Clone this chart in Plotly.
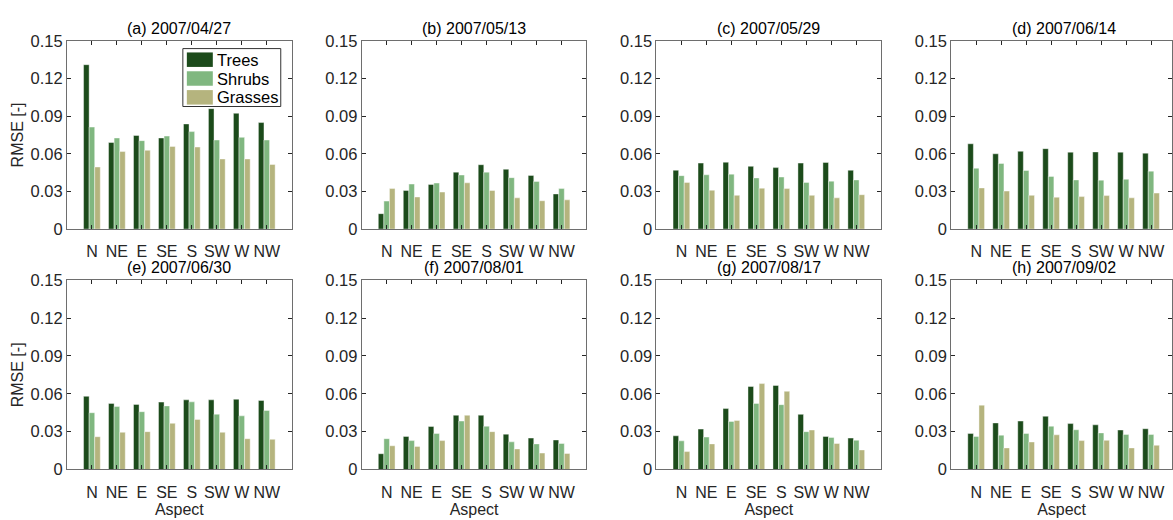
import plotly.graph_objects as go

aspects = ["N", "NE", "E", "SE", "S", "SW", "W", "NW"]
dates = ["(a) 2007/04/27", "(b) 2007/05/13", "(c) 2007/05/29", "(d) 2007/06/14",
         "(e) 2007/06/30", "(f) 2007/08/01", "(g) 2007/08/17", "(h) 2007/09/02"]
series_names = ["Trees", "Shrubs", "Grasses"]

trees_a = [0.131, 0.069, 0.0746, 0.0726, 0.0838, 0.0960, 0.0923, 0.0849]
shrubs_a = [0.0813, 0.0726, 0.0705, 0.0741, 0.0777, 0.0710, 0.0731, 0.0710]
grasses_a = [0.0495, 0.0618, 0.0628, 0.0659, 0.0654, 0.0559, 0.0559, 0.0515]

trees_b = [0.0123, 0.0308, 0.0356, 0.0454, 0.0513, 0.0477, 0.0428, 0.0280]
shrubs_b = [0.0223, 0.0359, 0.0367, 0.0431, 0.0454, 0.0410, 0.0380, 0.0323]
grasses_b = [0.0323, 0.0256, 0.0295, 0.0369, 0.0308, 0.0249, 0.0226, 0.0233]

trees_c = [0.0469, 0.0526, 0.0533, 0.0500, 0.0490, 0.0526, 0.0531, 0.0469]
shrubs_c = [0.0426, 0.0433, 0.0438, 0.0408, 0.0415, 0.0372, 0.0382, 0.0392]
grasses_c = [0.0372, 0.0310, 0.0269, 0.0326, 0.0323, 0.0269, 0.0249, 0.0274]

trees_d = [0.0680, 0.0600, 0.0620, 0.0641, 0.0613, 0.0615, 0.0613, 0.0605]
shrubs_d = [0.0485, 0.0523, 0.0467, 0.0420, 0.0392, 0.0390, 0.0397, 0.0462]
grasses_d = [0.0328, 0.0303, 0.0269, 0.0254, 0.0259, 0.0267, 0.0249, 0.0287]

trees_e = [0.0580, 0.0524, 0.0516, 0.0534, 0.0552, 0.0552, 0.0557, 0.0547]
shrubs_e = [0.0450, 0.0499, 0.0458, 0.0504, 0.0536, 0.0438, 0.0425, 0.0468]
grasses_e = [0.0260, 0.0295, 0.0300, 0.0366, 0.0397, 0.0295, 0.0244, 0.0239]

trees_f = [0.0125, 0.0262, 0.0341, 0.0430, 0.0430, 0.0280, 0.0249, 0.0234]
shrubs_f = [0.0244, 0.0229, 0.0285, 0.0384, 0.0343, 0.0219, 0.0203, 0.0206]
grasses_f = [0.0188, 0.0183, 0.0229, 0.0430, 0.0300, 0.0163, 0.0130, 0.0127]

trees_g = [0.0267, 0.0320, 0.0483, 0.0658, 0.0666, 0.0437, 0.0262, 0.0249]
shrubs_g = [0.0227, 0.0257, 0.0381, 0.0524, 0.0514, 0.0300, 0.0254, 0.0232]
grasses_g = [0.0142, 0.0203, 0.0389, 0.0681, 0.0620, 0.0313, 0.0206, 0.0155]

trees_h = [0.0285, 0.0369, 0.0384, 0.0422, 0.0364, 0.0354, 0.0313, 0.0323]
shrubs_h = [0.0262, 0.0272, 0.0285, 0.0343, 0.0315, 0.0290, 0.0277, 0.0277]
grasses_h = [0.0510, 0.0171, 0.0218, 0.0275, 0.0229, 0.0231, 0.0171, 0.0192]

panels = [
    (trees_a, shrubs_a, grasses_a), (trees_b, shrubs_b, grasses_b),
    (trees_c, shrubs_c, grasses_c), (trees_d, shrubs_d, grasses_d),
    (trees_e, shrubs_e, grasses_e), (trees_f, shrubs_f, grasses_f),
    (trees_g, shrubs_g, grasses_g), (trees_h, shrubs_h, grasses_h),
]
yticks = [0, 0.03, 0.06, 0.09, 0.12, 0.15]
ytick_text = ["0", "0.03", "0.06", "0.09", "0.12", "0.15"]

colors = ["#1c4b1b", "#80b780", "#b5b47e"]

W, H = 1173, 520
col_left = [67, 362, 657, 952]
panel_w = 225
row_top = [33, 281]
row_bot = [228, 477]
FONT = "Liberation Sans, Arial, sans-serif"
FS = 16
TXT = "#262626"
AX = "#6e6e6e"

fig = go.Figure()
xpos = list(range(1, len(aspects) + 1))
layout = {}
annotations = []
shapes = []
for i, vals in enumerate(panels):
    r, c = divmod(i, 4)
    idx = i + 1
    xa = "x" if idx == 1 else f"x{idx}"
    ya = "y" if idx == 1 else f"y{idx}"
    for s, (name, v) in enumerate(zip(series_names, vals)):
        fig.add_trace(go.Bar(
            x=xpos, y=v, name=name, xaxis=xa, yaxis=ya,
            marker=dict(color=colors[s], line=dict(width=0.6, color="rgba(255,255,255,0.7)")),
            showlegend=False,
        ))
    left = col_left[c]
    right = min(left + panel_w, W)
    xr = 9.0 * (right - left) / panel_w
    xkey = "xaxis" if idx == 1 else f"xaxis{idx}"
    ykey = "yaxis" if idx == 1 else f"yaxis{idx}"
    layout[xkey] = dict(
        domain=[left / W, right / W], anchor=ya, range=[0, xr],
        tickvals=xpos, ticktext=aspects, ticks="inside", ticklen=4,
        tickcolor=TXT, showline=True, linecolor=AX, linewidth=1, mirror="allticks",
        showgrid=False, zeroline=False, tickfont=dict(family=FONT, size=FS, color=TXT),
        ticklabelstandoff=8, fixedrange=True,
        title=dict(text="Aspect" if r == 1 else "", font=dict(family=FONT, size=FS, color=TXT), standoff=2),
    )
    layout[ykey] = dict(
        domain=[(H - row_bot[r]) / H, (H - row_top[r]) / H], anchor=xa, range=[0, 0.15],
        tickvals=yticks, ticktext=ytick_text, ticks="inside", ticklen=4,
        tickcolor=TXT, showline=True, linecolor=AX, linewidth=1, mirror="allticks",
        showgrid=False, zeroline=False, tickfont=dict(family=FONT, size=16.5, color=TXT),
        fixedrange=True,
        title=dict(text="RMSE [-]" if c == 0 else "", font=dict(family=FONT, size=FS, color=TXT), standoff=2),
    )
    annotations.append(dict(
        text=dates[i], xref="paper", yref="paper",
        x=(left + panel_w / 2) / W, y=(H - row_top[r]) / H,
        xanchor="center", yanchor="bottom", yshift=2, showarrow=False,
        font=dict(family=FONT, size=FS, color="#000000"),
    ))

# legend box (decoration) inside panel (a)
leg_l, leg_t, leg_r, leg_b = 183, 41, 281, 101
row_h = 19.5
shapes.append(dict(type="rect", xref="paper", yref="paper", layer="above",
                   x0=leg_l / W, x1=leg_r / W, y0=(H - leg_b) / H, y1=(H - leg_t) / H,
                   line=dict(color="#333333", width=1), fillcolor="white"))
for s, name in enumerate(series_names):
    yt = leg_t + 4 + s * row_h
    shapes.append(dict(type="rect", xref="paper", yref="paper", layer="above",
                       x0=(leg_l + 4) / W, x1=(leg_l + 30) / W,
                       y0=(H - (yt + 15)) / H, y1=(H - yt) / H,
                       line=dict(width=0), fillcolor=colors[s]))
    annotations.append(dict(text=name, xref="paper", yref="paper",
                            x=(leg_l + 32) / W, y=(H - (yt + 7.5)) / H,
                            xanchor="left", yanchor="middle", showarrow=False,
                            font=dict(family=FONT, size=16.5, color="#000000")))

fig.update_layout(
    width=W, height=H, margin=dict(l=0, r=0, t=0, b=0),
    paper_bgcolor="white", plot_bgcolor="white",
    barmode="group", bargap=0.33, bargroupgap=0.0,
    showlegend=False,
    annotations=annotations, shapes=shapes,
    **layout,
)

fig.write_html("out.html")
